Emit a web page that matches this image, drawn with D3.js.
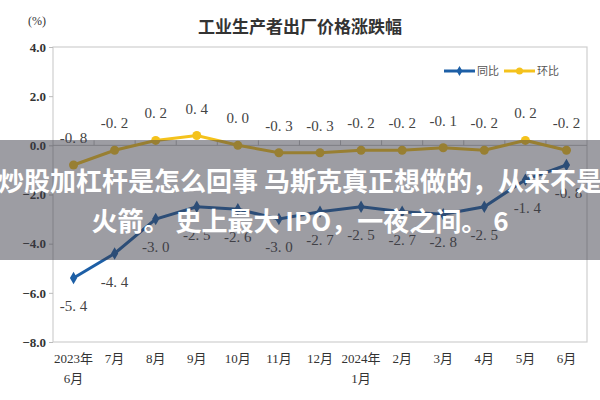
<!DOCTYPE html>
<html>
<head>
<meta charset="utf-8">
<script src="https://cdn.jsdelivr.net/npm/d3@7"></script>
<style>
  html, body { margin: 0; padding: 0; background: #fff; }
  svg { display: block; }
</style>
</head>
<body>
<div id="chart"></div>
<script>
// ── data ────────────────────────────────────
const months   = ["2023年\n6月", "7月", "8月", "9月", "10月", "11月", "12月", "2024年\n1月", "2月", "3月", "4月", "5月", "6月"];
const yoy      = [-5.4, -4.4, -3.0, -2.5, -2.6, -3.0, -2.7, -2.5, -2.7, -2.8, -2.5, -1.4, -0.8];
const mom      = [-0.8, -0.2, 0.2, 0.4, 0.0, -0.3, -0.3, -0.2, -0.2, -0.1, -0.2, 0.2, -0.2];
const yTicks   = [4, 2, 0, -2, -4, -6, -8];
const seriesNames = ["同比", "环比"];
const bannerLines = ["炒股加杠杆是怎么回事 马斯克真正想做的，从来不是", "火箭。 史上最大 IPO，一夜之间。 6"];

const W = 600, H = 400;
const m = { left: 53, right: 13, top: 47, bottom: 58 };
const BLUE = "#1d5fa6", YELLOW = "#f4c21c";
const SERIF = "'Liberation Serif', 'DejaVu Serif', 'Noto Sans CJK SC', serif";
const SANS  = "'Noto Sans CJK SC', 'Noto Sans', sans-serif";

const svg = d3.select("#chart").append("svg")
  .attr("width", W).attr("height", H);

const x = d3.scaleBand().domain(d3.range(months.length))
  .range([m.left, W - m.right]);
const y = d3.scaleLinear().domain([-8, 4]).range([H - m.bottom, m.top]);
const cx = i => x(i) + x.bandwidth() / 2;

// ── title ───────────────────────────────────
svg.append("text")
  .attr("x", 300).attr("y", 33)
  .attr("text-anchor", "middle")
  .attr("font-family", SANS).attr("font-weight", 700)
  .attr("font-size", 17).attr("fill", "#333")
  .text("工业生产者出厂价格涨跌幅");

svg.append("text")
  .attr("x", 37).attr("y", 25)
  .attr("text-anchor", "middle")
  .attr("font-family", SERIF).attr("font-size", 12).attr("fill", "#333")
  .text("(%)");

// ── frame ───────────────────────────────────
svg.append("rect")
  .attr("x", m.left).attr("y", m.top)
  .attr("width", W - m.left - m.right).attr("height", H - m.top - m.bottom)
  .attr("fill", "none").attr("stroke", "#cfcfcf").attr("stroke-width", 1.2);

// ── y axis ──────────────────────────────────
const yAxis = svg.append("g")
  .attr("transform", `translate(${m.left},0)`)
  .call(d3.axisLeft(y).tickValues(yTicks).tickFormat(d3.format(".1f")).tickSize(4));
yAxis.select(".domain").remove();
yAxis.selectAll("line").attr("stroke", "#bbb");
yAxis.selectAll("text")
  .attr("font-family", SERIF).attr("font-weight", 700)
  .attr("font-size", 13).attr("fill", "#333").attr("x", -7);

// ── zero line with category ticks ───────────
svg.append("line")
  .attr("x1", m.left).attr("x2", W - m.right)
  .attr("y1", y(0)).attr("y2", y(0))
  .attr("stroke", "#bdbdbd");
svg.append("g").selectAll("line")
  .data(d3.range(1, months.length))
  .join("line")
  .attr("x1", i => x(i)).attr("x2", i => x(i))
  .attr("y1", y(0)).attr("y2", y(0) - 5)
  .attr("stroke", "#bdbdbd");

// ── x labels ────────────────────────────────
const xl = svg.append("g").selectAll("text")
  .data(months)
  .join("text")
  .attr("x", (d, i) => cx(i))
  .attr("y", H - m.bottom + 21)
  .attr("text-anchor", "middle")
  .attr("font-family", SERIF).attr("font-size", 13).attr("fill", "#333");
xl.each(function (d) {
  d.split("\n").forEach((part, k) => {
    d3.select(this).append("tspan")
      .attr("x", d3.select(this).attr("x"))
      .attr("dy", k === 0 ? 0 : 20)
      .text(part);
  });
});

// ── series ──────────────────────────────────
const line = d3.line().x((d, i) => cx(i)).y(d => y(d));

svg.append("path").datum(mom)
  .attr("d", line).attr("fill", "none")
  .attr("stroke", YELLOW).attr("stroke-width", 3);
svg.append("g").selectAll("circle")
  .data(mom).join("circle")
  .attr("cx", (d, i) => cx(i)).attr("cy", d => y(d)).attr("r", 4.5)
  .attr("fill", YELLOW);

svg.append("path").datum(yoy)
  .attr("d", line).attr("fill", "none")
  .attr("stroke", BLUE).attr("stroke-width", 3);
svg.append("g").selectAll("path")
  .data(yoy).join("path")
  .attr("d", d3.symbol(d3.symbolDiamond, 45))
  .attr("transform", (d, i) => `translate(${cx(i)},${y(d)})`)
  .attr("fill", BLUE);

// ── data labels ─────────────────────────────
const fmt = v => (v < 0 ? "-" : "") + Math.abs(v).toFixed(1).replace(".", ". ");
svg.append("g").selectAll("text")
  .data(mom).join("text")
  .attr("x", (d, i) => cx(i)).attr("y", d => y(d) - 22)
  .attr("text-anchor", "middle")
  .attr("font-family", SERIF).attr("font-size", 15).attr("fill", "#444")
  .text(fmt);

svg.append("g").selectAll("text")
  .data(yoy).join("text")
  .attr("x", (d, i) => cx(i) + (i >= 11 ? 2 : 0)).attr("y", d => y(d) + 33)
  .attr("text-anchor", "middle")
  .attr("font-family", SERIF).attr("font-size", 15).attr("fill", "#444")
  .text(fmt);

// ── legend ──────────────────────────────────
const lg = svg.append("g").attr("transform", "translate(444,71)");
[BLUE, YELLOW].forEach((c, k) => {
  const g = lg.append("g").attr("transform", `translate(${k * 60},0)`);
  g.append("line").attr("x1", 0).attr("x2", 31).attr("stroke", c).attr("stroke-width", 3);
  if (k === 0) {
    g.append("path").attr("d", d3.symbol(d3.symbolDiamond, 30))
      .attr("transform", "translate(15.5,0)").attr("fill", c);
  } else {
    g.append("circle").attr("cx", 15.5).attr("r", 3.5).attr("fill", c);
  }
  g.append("text").attr("x", 33).attr("y", 4)
    .attr("font-family", SANS).attr("font-size", 11).attr("fill", "#555")
    .text(seriesNames[k]);
});

// ── overlay banner ──────────────────────────
svg.append("rect")
  .attr("x", 0).attr("y", 140).attr("width", W).attr("height", 120)
  .attr("fill", "rgb(60,60,72)").attr("fill-opacity", 0.5);
svg.append("g").selectAll("text")
  .data(bannerLines).join("text")
  .attr("x", 300).attr("y", (d, i) => 191 + i * 40)
  .attr("text-anchor", "middle")
  .attr("font-family", SANS).attr("font-weight", 700)
  .attr("font-size", 26).attr("fill", "#fff")
  .text(d => d);
</script>
</body>
</html>
